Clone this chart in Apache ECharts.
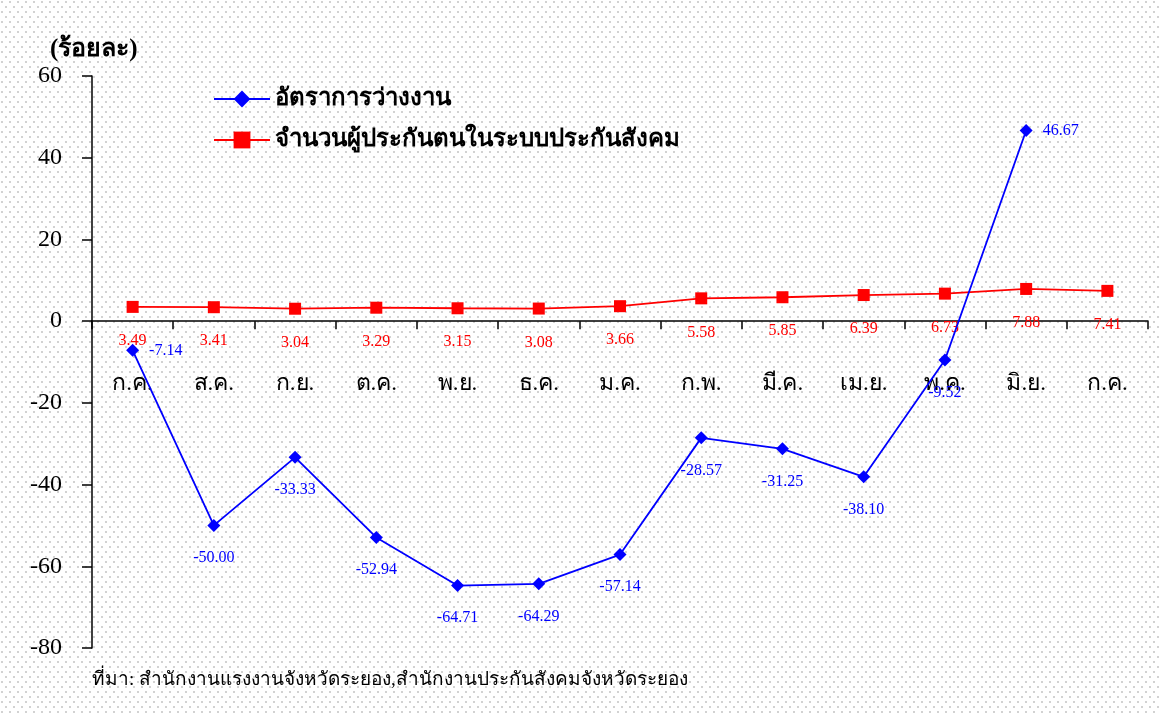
<!DOCTYPE html>
<html>
<head>
<meta charset="utf-8">
<script src="https://cdn.jsdelivr.net/npm/echarts@6/dist/echarts.min.js"></script>
<style>
  html, body { margin: 0; padding: 0; }
  #main { width: 1159px; height: 716px; }
</style>
</head>
<body>
<div id="main"></div>
<script>
// เดือน
var months = ['ก.ค.', 'ส.ค.', 'ก.ย.', 'ต.ค.', 'พ.ย.', 'ธ.ค.', 'ม.ค.', 'ก.พ.', 'มี.ค.', 'เม.ย.', 'พ.ค.', 'มิ.ย.', 'ก.ค.'];
// อัตราการว่างงาน
var unemployment = [-7.14, -50.00, -33.33, -52.94, -64.71, -64.29, -57.14, -28.57, -31.25, -38.10, -9.52, 46.67, null];
// ผู้ประกันตน
var insured = [3.49, 3.41, 3.04, 3.29, 3.15, 3.08, 3.66, 5.58, 5.85, 6.39, 6.73, 7.88, 7.41];
var yTicks = [-80, -60, -40, -20, 0, 20, 40, 60];

var serif = '"Liberation Serif", "Times New Roman", serif';

// พื้นหลังลายจุด
var tile = document.createElement('canvas');
tile.width = 8; tile.height = 10;
var ctx = tile.getContext('2d');
ctx.fillStyle = '#ffffff';
ctx.fillRect(0, 0, 8, 10);
ctx.fillStyle = '#d2d2d2';
ctx.fillRect(1, 1, 2, 2);
ctx.fillRect(5, 6, 2, 2);

var myChart = echarts.init(document.getElementById('main'));

var blueData = unemployment.map(function (v, i) {
  if (i === 0 || i === 11) {
    return { value: v, label: { position: 'right', distance: 10 } };
  }
  return v;
});

var option = {
  backgroundColor: { image: tile, repeat: 'repeat' },
  textStyle: { fontFamily: serif },
  animation: false,
  grid: { left: 92, right: 11, top: 76, bottom: 68 },
  legend: {
    orient: 'vertical',
    left: 208,
    top: 82,
    itemWidth: 56,
    itemHeight: 21,
    itemGap: 17,
    textStyle: { fontSize: 24, fontWeight: 'bold', color: '#000', fontFamily: serif },
    data: ['อัตราการว่างงาน', 'จำนวนผู้ประกันตนในระบบประกันสังคม']
  },
  graphic: [
    { type: 'text', left: 50, top: 37, style: { text: '(ร้อยละ)', font: 'bold 25px ' + serif, fill: '#000' } },
    { type: 'text', left: 92, top: 671, style: { text: 'ที่มา: สำนักงานแรงงานจังหวัดระยอง,สำนักงานประกันสังคมจังหวัดระยอง', font: '19px ' + serif, fill: '#000' } }
  ],
  xAxis: {
    type: 'category',
    data: months,
    boundaryGap: true,
    axisLine: { onZero: true, lineStyle: { color: '#000', width: 1.5 } },
    axisTick: { show: true, length: 8, lineStyle: { color: '#000', width: 1.5 } },
    axisLabel: { margin: -276, fontSize: 23, color: '#000', fontFamily: serif, interval: 0 },
    splitLine: { show: false }
  },
  yAxis: {
    type: 'value',
    min: yTicks[0],
    max: yTicks[yTicks.length - 1],
    interval: 20,
    axisLine: { show: true, lineStyle: { color: '#000', width: 1.5 } },
    axisTick: { show: true, length: 10, lineStyle: { color: '#000', width: 1.5 } },
    axisLabel: { fontSize: 24, color: '#000', margin: 30, fontFamily: serif },
    splitLine: { show: false }
  },
  series: [
    {
      name: 'อัตราการว่างงาน',
      type: 'line',
      data: blueData,
      symbol: 'diamond',
      symbolSize: 13,
      color: '#0000ff',
      lineStyle: { width: 1.8, color: '#0000ff' },
      label: {
        show: true,
        position: 'bottom',
        distance: 18,
        color: '#0000ff',
        fontSize: 16,
        fontFamily: serif,
        formatter: function (p) { return p.value.toFixed(2); }
      },
      z: 3
    },
    {
      name: 'จำนวนผู้ประกันตนในระบบประกันสังคม',
      type: 'line',
      data: insured,
      symbol: 'rect',
      symbolSize: 12,
      color: '#ff0000',
      lineStyle: { width: 1.8, color: '#ff0000' },
      label: {
        show: true,
        position: 'bottom',
        distance: 20,
        color: '#ff0000',
        fontSize: 16,
        fontFamily: serif,
        formatter: function (p) { return p.value.toFixed(2); }
      },
      z: 2
    }
  ]
};

myChart.setOption(option);
</script>
</body>
</html>
